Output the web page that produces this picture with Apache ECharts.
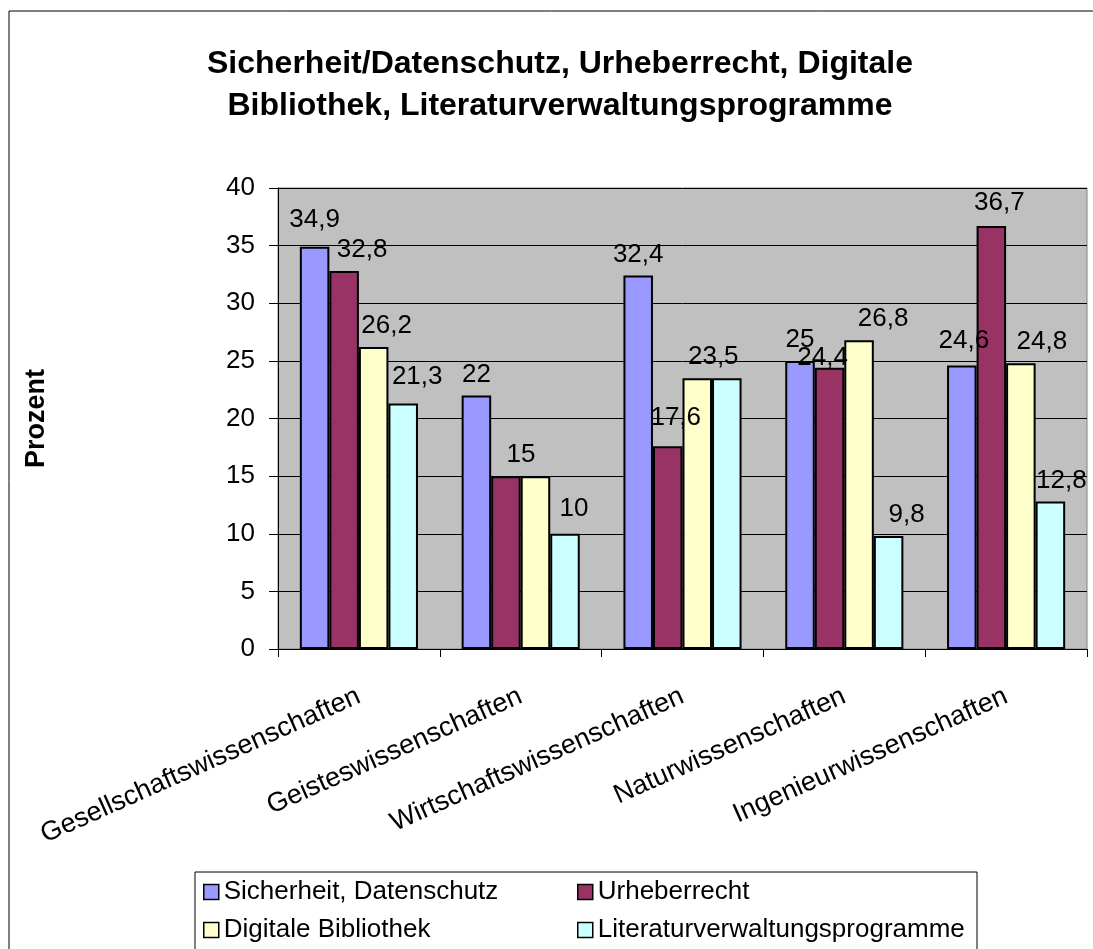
<!DOCTYPE html>
<html>
<head>
<meta charset="utf-8">
<title>Sicherheit/Datenschutz, Urheberrecht, Digitale Bibliothek, Literaturverwaltungsprogramme</title>
<script src="https://cdn.jsdelivr.net/npm/echarts@6/dist/echarts.min.js"></script>
<style>
  html, body { margin: 0; padding: 0; background: #fff; }
  #chart { width: 1093px; height: 949px; }
</style>
</head>
<body>
<div id="chart"></div>
<script>
// Daten (Prozent)
const categories = ['Gesellschaftswissenschaften', 'Geisteswissenschaften', 'Wirtschaftswissenschaften', 'Naturwissenschaften', 'Ingenieurwissenschaften']
const sicherheit = [34.9, 22, 32.4, 25, 24.6]
const urheberrecht = [32.8, 15, 17.6, 24.4, 36.7]
const bibliothek = [26.2, 15, 23.5, 26.8, 24.8]
const literatur = [21.3, 10, 23.5, 9.8, 12.8]
const yTicks = [0, 5, 10, 15, 20, 25, 30, 35, 40]

const FONT = '"Liberation Sans", Arial, sans-serif'

// Excel schiebt manche Beschriftungen etwas zur Seite (dx, dy);
// null = liegt genau auf einer gleichen Beschriftung, nicht doppelt zeichnen
const nudge = [
  [[0, -6], [0, 0], [0, 0], [0, 0], [2, -4]],
  [[18, 0], [15, 0], [8, -7], [-7, 11], [8, -2]],
  [[13, 0], null, [16, 0], [24, 0], [21, 0]],
  [[14, -6], [9, -4], null, [18, 0], [11, 0]]
]

function makeSeries (name, values, color, idx) {
  return {
    name: name,
    type: 'bar',
    barGap: '0%',
    barCategoryGap: '27%',
    itemStyle: { color: color, borderColor: '#000', borderWidth: 2 },
    data: values.map(function (v, i) {
      const n = nudge[idx][i]
      return { value: v, label: n ? { offset: n } : { show: false } }
    }),
    label: {
      show: true,
      position: 'top',
      distance: 8,
      color: '#000',
      fontFamily: FONT,
      fontSize: 26,
      formatter: function (p) { return String(p.value).replace('.', ',') }
    }
  }
}

const chart = echarts.init(document.getElementById('chart'))
const option = {
  backgroundColor: '#fff',
  animation: false,
  title: {
    text: 'Sicherheit/Datenschutz, Urheberrecht, Digitale\nBibliothek, Literaturverwaltungsprogramme',
    left: 555,
    textAlign: 'center',
    top: 38,
    textStyle: { fontFamily: FONT, fontSize: 32, fontWeight: 'bold', lineHeight: 42, color: '#000' }
  },
  graphic: [
    { type: 'rect', shape: { x: 9, y: 11, width: 1200, height: 1100 }, style: { fill: 'none', stroke: '#000', lineWidth: 1 }, z: -10 },
    { type: 'rect', shape: { x: 195, y: 872, width: 782, height: 100 }, style: { fill: 'none', stroke: '#000', lineWidth: 1 } }
  ],
  legend: [{
    orient: 'vertical',
    left: 203,
    top: 879,
    padding: 0,
    itemGap: 12,
    itemWidth: 15,
    itemHeight: 15,
    icon: 'rect',
    itemStyle: { borderColor: '#000', borderWidth: 1.5 },
    textStyle: { fontFamily: FONT, fontSize: 26, lineHeight: 26, color: '#000' },
    data: ['Sicherheit, Datenschutz', 'Digitale Bibliothek']
  }, {
    orient: 'vertical',
    left: 577,
    top: 879,
    padding: 0,
    itemGap: 12,
    itemWidth: 15,
    itemHeight: 15,
    icon: 'rect',
    itemStyle: { borderColor: '#000', borderWidth: 1.5 },
    textStyle: { fontFamily: FONT, fontSize: 26, lineHeight: 26, color: '#000' },
    data: ['Urheberrecht', 'Literaturverwaltungsprogramme']
  }],
  grid: {
    left: 278,
    right: 6,
    top: 188,
    bottom: 300,
    show: true,
    backgroundColor: '#C0C0C0',
    borderColor: '#808080',
    borderWidth: 1
  },
  xAxis: {
    type: 'category',
    data: categories,
    axisLine: { lineStyle: { color: '#000', width: 1 } },
    axisTick: { show: true, length: 8, lineStyle: { color: '#000' } },
    axisLabel: {
      interval: 0,
      rotate: 24,
      margin: 46,
      color: '#000',
      fontFamily: FONT,
      fontSize: 27
    }
  },
  yAxis: {
    type: 'value',
    min: yTicks[0],
    max: yTicks[yTicks.length - 1],
    interval: 5,
    name: 'Prozent',
    nameLocation: 'middle',
    nameGap: 228,
    nameRotate: 90,
    nameTextStyle: { fontFamily: FONT, fontSize: 27, fontWeight: 'bold', color: '#000' },
    axisLine: { show: true, lineStyle: { color: '#000', width: 1 } },
    axisTick: { show: true, length: 9, lineStyle: { color: '#000' } },
    axisLabel: { margin: 23, color: '#000', fontFamily: FONT, fontSize: 26 },
    splitLine: { show: true, lineStyle: { color: '#000', width: 1 } }
  },
  series: [
    makeSeries('Sicherheit, Datenschutz', sicherheit, '#9999FF', 0),
    makeSeries('Urheberrecht', urheberrecht, '#993366', 1),
    makeSeries('Digitale Bibliothek', bibliothek, '#FFFFCC', 2),
    makeSeries('Literaturverwaltungsprogramme', literatur, '#CCFFFF', 3)
  ]
}
chart.setOption(option)
</script>
</body>
</html>
